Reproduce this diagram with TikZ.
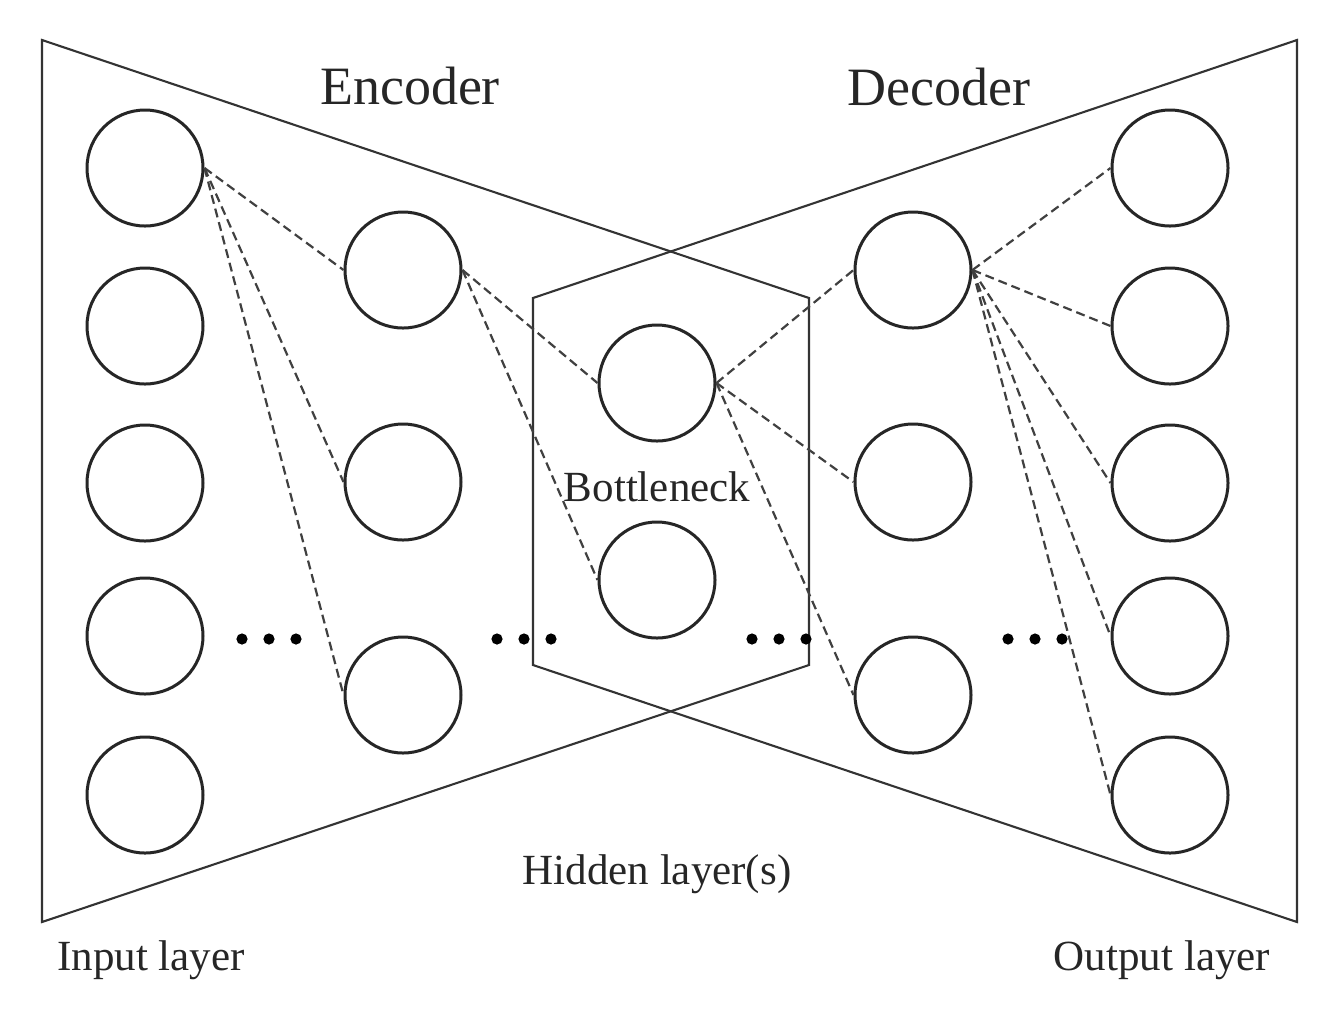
\documentclass[tikz,border=0pt]{standalone}
\usepackage{fontspec}
\setmainfont{Liberation Serif}
\begin{document}
\begin{tikzpicture}[x=0.5pt,y=-0.5pt,
  neuron/.style={circle,draw=black!85,line width=1.5pt,minimum size=58pt,inner sep=0pt},
  frame/.style={draw=black!80,line width=1.05pt,line join=miter},
  link/.style={draw=black!75,dash pattern=on 4.5pt off 2.5pt,line width=1.1pt},
  big/.style={font=\fontsize{27}{30}\selectfont,text=black!85,anchor=base,inner sep=0pt},
  lab/.style={font=\fontsize{21.5}{24}\selectfont,text=black!85,anchor=base,inner sep=0pt},
  dotmark/.style={fill=black}]
\useasboundingbox (0,0) rectangle (1339,1009);
\fill[white] (0,0) rectangle (1339,1009);

% frame
\coordinate (TL) at (42,40);
\coordinate (BL) at (42,922);
\coordinate (TR) at (1297,40);
\coordinate (BR) at (1297,922);
\coordinate (H1) at (533,298);
\coordinate (H2) at (809,298);
\coordinate (H3) at (809,665);
\coordinate (H4) at (533,665);
\draw[frame] (TL) -- (H2) -- (H3) -- (BL) -- cycle;
\draw[frame] (TR) -- (H1) -- (H4) -- (BR) -- cycle;

% neurons
\node[neuron] (i1) at (145,168) {};
\node[neuron] (i2) at (145,326) {};
\node[neuron] (i3) at (145,483) {};
\node[neuron] (i4) at (145,636) {};
\node[neuron] (i5) at (145,795) {};
\node[neuron] (e1) at (403,270) {};
\node[neuron] (e2) at (403,482) {};
\node[neuron] (e3) at (403,695) {};
\node[neuron] (b1) at (657,383) {};
\node[neuron] (b2) at (657,580) {};
\node[neuron] (d1) at (913,270) {};
\node[neuron] (d2) at (913,482) {};
\node[neuron] (d3) at (913,695) {};
\node[neuron] (o1) at (1170,168) {};
\node[neuron] (o2) at (1170,326) {};
\node[neuron] (o3) at (1170,483) {};
\node[neuron] (o4) at (1170,636) {};
\node[neuron] (o5) at (1170,795) {};

% connections
\draw[link] (i1.east) -- (e1.west);
\draw[link] (i1.east) -- (e2.west);
\draw[link] (i1.east) -- (e3.west);
\draw[link] (e1.east) -- (b1.west);
\draw[link] (e1.east) -- (b2.west);
\draw[link] (b1.east) -- (d1.west);
\draw[link] (b1.east) -- (d2.west);
\draw[link] (b1.east) -- (d3.west);
\draw[link] (d1.east) -- (o1.west);
\draw[link] (d1.east) -- (o2.west);
\draw[link] (d1.east) -- (o3.west);
\draw[link] (d1.east) -- (o4.west);
\draw[link] (d1.east) -- (o5.west);

% ellipsis dots
\foreach \x in {242,497,752,1008}{
  \foreach \k in {0,1,2}{
    \fill[dotmark] (\x+\k*27,639) circle (2.8pt);
  }
}

% labels
\node[big] (enc) at (410,104) {Encoder};
\node[big] (dec) at (939,105) {Decoder};
\node[lab] (bott) at (657,501) {Bottleneck};
\node[lab] (hid) at (657,884) {Hidden layer(s)};
\node[lab] (inp) at (151,970) {Input layer};
\node[lab] (outp) at (1162,970) {Output layer};
\end{tikzpicture}
\end{document}
